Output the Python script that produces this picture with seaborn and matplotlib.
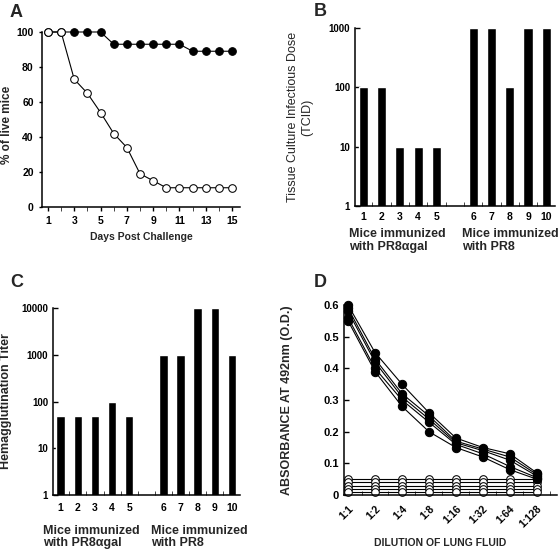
import matplotlib
matplotlib.use("Agg")
import matplotlib.pyplot as plt
import matplotlib.transforms as mtransforms
from matplotlib.ticker import FixedLocator, FixedFormatter, NullFormatter, NullLocator
import seaborn as sns

# painel A - sobrevivencia
dias = [1, 2, 3, 4, 5, 6, 7, 8, 9, 10, 11, 12, 13, 14, 15]
sobrev_pr8agal = [100, 100, 100, 100, 100, 93, 93, 93, 93, 93, 93, 89, 89, 89, 89]
sobrev_pr8 = [100, 100, 73, 65, 54, 42, 34, 19, 15, 11, 11, 11, 11, 11, 11]

# paineis B e C - por camundongo
camundongos = ['1', '2', '3', '4', '5', '6', '7', '8', '9', '10']
ordem = ['1', '2', '3', '4', '5', '', '6', '7', '8', '9', '10']
tcid = [100, 100, 10, 10, 10, 1000, 1000, 100, 1000, 1000]
titulo_ha = [50, 50, 50, 100, 50, 1000, 1000, 10000, 10000, 1000]
grupo1 = "Mice immunized\nwith PR8\u03b1gal"
grupo2 = "Mice immunized\nwith PR8"

# painel D - absorbancia
diluicoes = ['1:1', '1:2', '1:4', '1:8', '1:16', '1:32', '1:64', '1:128']
abs_pr8 = [
    [0.60, 0.45, 0.35, 0.26, 0.18, 0.15, 0.13, 0.07],
    [0.59, 0.43, 0.32, 0.25, 0.17, 0.145, 0.12, 0.065],
    [0.58, 0.42, 0.31, 0.24, 0.165, 0.14, 0.11, 0.06],
    [0.56, 0.40, 0.30, 0.23, 0.16, 0.13, 0.09, 0.055],
    [0.55, 0.39, 0.28, 0.20, 0.15, 0.12, 0.08, 0.05],
]
abs_pr8agal = [
    [0.05, 0.05, 0.05, 0.05, 0.05, 0.05, 0.05, 0.05],
    [0.04, 0.04, 0.04, 0.04, 0.04, 0.04, 0.04, 0.04],
    [0.03, 0.03, 0.03, 0.03, 0.03, 0.03, 0.03, 0.03],
    [0.02, 0.02, 0.02, 0.02, 0.02, 0.02, 0.02, 0.02],
    [0.01, 0.01, 0.01, 0.01, 0.01, 0.01, 0.01, 0.01],
]

sns.set_style("ticks")
plt.rcParams['font.family'] = ['Liberation Sans', 'DejaVu Sans']
plt.rcParams['font.weight'] = 'bold'
plt.rcParams['axes.labelweight'] = 'bold'
plt.rcParams['axes.linewidth'] = 1.1
plt.rcParams['axes.edgecolor'] = 'black'

W, H = 560, 557
fig = plt.figure(figsize=(W / 100, H / 100), dpi=100)


def caixa(l, t, r, b):
    return [l / W, 1 - b / H, (r - l) / W, (b - t) / H]


def limpar(ax):
    sns.despine(ax=ax)
    ax.tick_params(colors='black', labelcolor='black', width=1.0)


# ---------- A ----------
axA = fig.add_axes(caixa(42, 32, 240, 207))
sns.lineplot(x=dias, y=sobrev_pr8agal, ax=axA, color='black', linewidth=0.8,
             marker='o', markersize=5.5, markerfacecolor='black',
             markeredgecolor='black', clip_on=False)
sns.lineplot(x=dias, y=sobrev_pr8, ax=axA, color='black', linewidth=0.8,
             marker='o', markersize=5.5, markerfacecolor='white',
             markeredgecolor='black', clip_on=False)
axA.set_xlim(0.55, 15.6)
axA.set_ylim(0, 100)
axA.xaxis.set_major_locator(FixedLocator([1, 3, 5, 7, 9, 11, 13, 15]))
axA.xaxis.set_minor_locator(FixedLocator([2, 4, 6, 8, 10, 12, 14]))
axA.set_yticks([0, 20, 40, 60, 80, 100])
axA.tick_params(axis='both', which='both', direction='out', labelsize=7.5)
axA.tick_params(axis='x', which='both', length=3)
axA.tick_params(axis='y', length=2.5)
axA.set_xlabel("Days Post Challenge", fontsize=7.5)
axA.set_ylabel("% of live mice", fontsize=8.5)
axA.xaxis.set_label_coords(0.5, -0.14)
axA.yaxis.set_label_coords(-0.145, 0.47)
limpar(axA)


def barras(ax, valores, ylim, yticks, g1x, g2x, gy, lpad):
    ax.set_yscale('log')
    sns.barplot(x=camundongos, y=valores, order=ordem, ax=ax, color='black',
                width=0.5, saturation=1)
    ax.set_ylim(*ylim)
    ax.set_xlim(-0.45, 10.47)
    ax.yaxis.set_major_locator(FixedLocator(yticks))
    ax.yaxis.set_major_formatter(FixedFormatter([str(v) for v in yticks]))
    ax.yaxis.set_minor_locator(NullLocator())
    ax.xaxis.set_minor_locator(FixedLocator([i + 0.5 for i in range(11)]))
    ax.xaxis.set_minor_formatter(NullFormatter())
    ax.tick_params(axis='x', which='major', length=0, labelsize=7.5, pad=lpad)
    ax.tick_params(axis='x', which='minor', direction='in', length=3)
    ax.tick_params(axis='y', direction='in', length=3.5, labelsize=7)
    ax.set_xlabel("")
    trans = mtransforms.blended_transform_factory(ax.transData, ax.transAxes)
    ax.text(g1x, gy, grupo1, transform=trans, ha='left', va='top',
            fontsize=9, fontweight='bold', linespacing=1.05)
    ax.text(g2x, gy, grupo2, transform=trans, ha='left', va='top',
            fontsize=9, fontweight='bold', linespacing=1.05)
    limpar(ax)


# ---------- B ----------
axB = fig.add_axes(caixa(355, 28, 555, 206))
barras(axB, tcid, (1, 1000), [1, 10, 100, 1000], -0.78, 5.4, -0.125, 4)
axB.set_ylabel("Tissue Culture Infectious Dose\n(TCID)", fontsize=9,
               fontweight='normal', linespacing=1.25)
axB.yaxis.set_label_coords(-0.21, 0.5)

# ---------- C ----------
axC = fig.add_axes(caixa(53, 308, 240, 495))
barras(axC, titulo_ha, (1, 10000), [1, 10, 100, 1000, 10000],
       -1.06, 5.3, -0.16, 6)
axC.set_ylabel("Hemagglutination Titer", fontsize=9)
axC.yaxis.set_label_coords(-0.22, 0.5)

# ---------- D ----------
axD = fig.add_axes(caixa(344, 305, 557, 495))
posicoes = list(range(len(diluicoes)))
for serie in abs_pr8agal:
    sns.lineplot(x=posicoes, y=serie, ax=axD, color='black', linewidth=0.8,
                 marker='o', markersize=5.5, markerfacecolor='white',
                 markeredgecolor='black', clip_on=False)
for serie in abs_pr8:
    sns.lineplot(x=posicoes, y=serie, ax=axD, color='black', linewidth=0.8,
                 marker='o', markersize=6, markerfacecolor='black',
                 markeredgecolor='black', clip_on=False)
axD.set_xlim(-0.15, 7.75)
axD.set_ylim(0, 0.6)
axD.xaxis.set_major_locator(FixedLocator(posicoes))
axD.xaxis.set_major_formatter(FixedFormatter(diluicoes))
axD.xaxis.set_minor_locator(FixedLocator([p + 0.5 for p in posicoes]))
axD.xaxis.set_minor_formatter(NullFormatter())
yt = [0, 0.1, 0.2, 0.3, 0.4, 0.5, 0.6]
axD.yaxis.set_major_locator(FixedLocator(yt))
axD.yaxis.set_major_formatter(FixedFormatter(['0', '0.1', '0.2', '0.3', '0.4', '0.5', '0.6']))
axD.tick_params(axis='x', which='major', length=0, labelsize=7.5, pad=6)
axD.tick_params(axis='x', which='minor', direction='in', length=3)
axD.tick_params(axis='y', direction='in', length=3.5, labelsize=8)
for lbl in axD.get_xticklabels():
    lbl.set_rotation(45)
    lbl.set_ha('right')
    lbl.set_rotation_mode('anchor')
axD.set_xlabel("DILUTION OF LUNG FLUID", fontsize=7.5)
axD.set_ylabel("ABSORBANCE AT 492nm (O.D.)", fontsize=9)
axD.xaxis.set_label_coords(0.45, -0.225)
axD.yaxis.set_label_coords(-0.24, 0.5)
limpar(axD)

# letras dos paineis
for letra, x, y in [('A', 10, 4), ('B', 314, 3), ('C', 10, 274), ('D', 314, 274)]:
    fig.text(x / W, 1 - y / H, letra, fontsize=13, fontweight='bold',
             ha='left', va='top')

fig.savefig("out.png", dpi=100)
